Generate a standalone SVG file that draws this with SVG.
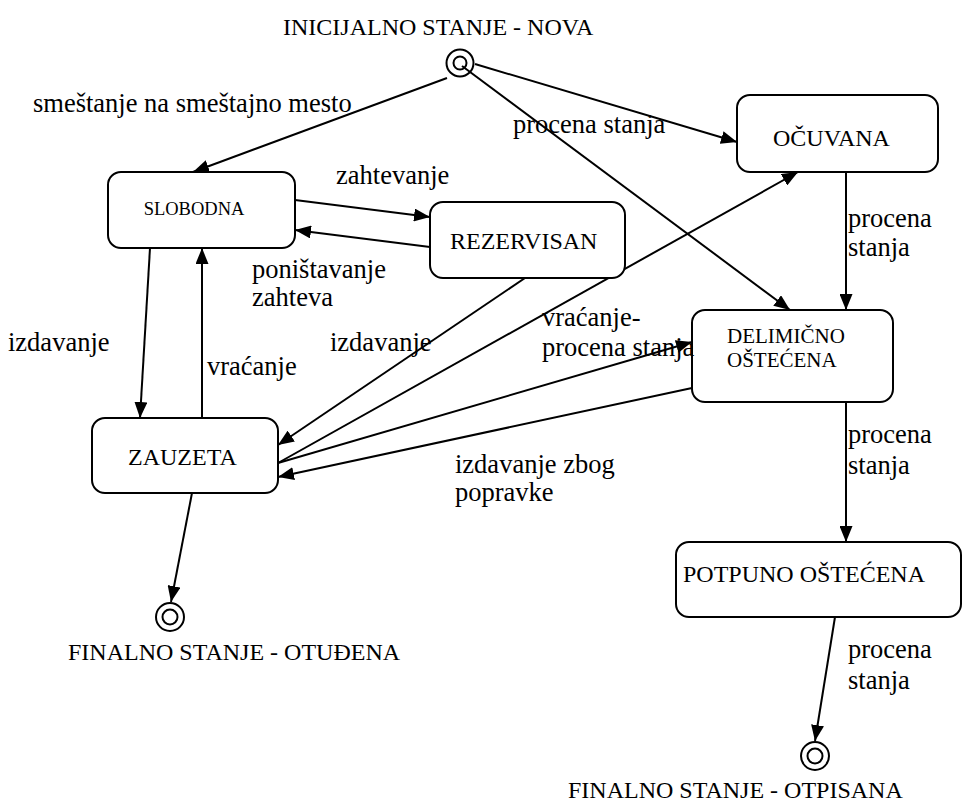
<svg xmlns="http://www.w3.org/2000/svg" width="965" height="805" viewBox="0 0 965 805">
<style>
.box{fill:#fff;stroke:#000;stroke-width:2}
.t{font-family:"Liberation Serif","Times New Roman",serif;font-size:24px;fill:#000}
.l{font-size:26.5px}
.s{font-size:18.5px}
.d{font-size:21px}
.c{fill:none;stroke:#000;stroke-width:2}
.e{stroke:#000;stroke-width:2;fill:none;marker-end:url(#ah)}
</style>
<defs>
<marker id="ah" markerUnits="userSpaceOnUse" markerWidth="17" markerHeight="13" refX="16" refY="6.5" orient="auto">
<path d="M0,0 L16,6.5 L0,13 z" fill="#000"/>
</marker>
</defs>
<rect width="965" height="805" fill="#fff"/>
<g id="connectors">
<line class="e" x1="447" y1="78" x2="193" y2="172"/>
<line class="e" x1="475" y1="64" x2="737" y2="142"/>
<line class="e" x1="462" y1="66" x2="790" y2="310"/>
<line class="e" x1="295" y1="200" x2="430" y2="217"/>
<line class="e" x1="430" y1="247" x2="295" y2="230"/>
<line class="e" x1="150" y1="248" x2="140" y2="418"/>
<line class="e" x1="202" y1="418" x2="202" y2="248"/>
<line class="e" x1="525" y1="278" x2="278" y2="445"/>
<line class="e" x1="278" y1="463" x2="798" y2="172"/>
<line class="e" x1="278" y1="463" x2="692" y2="342"/>
<line class="e" x1="692" y1="388" x2="278" y2="477"/>
<line class="e" x1="846" y1="172" x2="846" y2="310"/>
<line class="e" x1="846" y1="402" x2="846" y2="542"/>
<line class="e" x1="835" y1="617" x2="815" y2="741"/>
<line class="e" x1="192" y1="493" x2="171" y2="602"/>
</g>
<g id="initial">
<circle class="c" cx="460" cy="63" r="13.5"/>
<circle class="c" cx="460" cy="63" r="6.5"/>
<text class="t" x="283" y="35">INICIJALNO STANJE - NOVA</text>
</g>
<g id="final-otudjena">
<circle class="c" cx="170" cy="617" r="14"/>
<circle class="c" cx="170" cy="617" r="7.5"/>
<text class="t" x="68" y="660">FINALNO STANJE - OTUĐENA</text>
</g>
<g id="final-otpisana">
<circle class="c" cx="815" cy="756" r="14"/>
<circle class="c" cx="815" cy="756" r="7.5"/>
<text class="t" x="568" y="798">FINALNO STANJE - OTPISANA</text>
</g>
<g id="slobodna">
<rect class="box" x="108" y="172" width="187" height="76" rx="13"/>
<text class="t s" x="194" y="215" text-anchor="middle">SLOBODNA</text>
</g>
<g id="rezervisan">
<rect class="box" x="430" y="202" width="195" height="76" rx="13"/>
<text class="t" x="450" y="249">REZERVISAN</text>
</g>
<g id="zauzeta">
<rect class="box" x="92" y="418" width="186" height="75" rx="13"/>
<text class="t" x="128" y="465">ZAUZETA</text>
</g>
<g id="ocuvana">
<rect class="box" x="737" y="95" width="201" height="77" rx="13"/>
<text class="t" x="773" y="146">OČUVANA</text>
</g>
<g id="delimicno">
<rect class="box" x="692" y="310" width="201" height="92" rx="13"/>
<text class="t d" x="727" y="343">DELIMIČNO</text>
<text class="t d" x="727" y="367">OŠTEĆENA</text>
</g>
<g id="potpuno">
<rect class="box" x="676" y="542" width="285" height="75" rx="13"/>
<text class="t" x="683" y="582">POTPUNO OŠTEĆENA</text>
</g>
<g id="labels">
<text class="t l" x="33" y="112">smeštanje na smeštajno mesto</text>
<text class="t l" x="513" y="133">procena stanja</text>
<text class="t l" x="336" y="184">zahtevanje</text>
<text class="t l" x="252" y="278">poništavanje</text>
<text class="t l" x="252" y="306">zahteva</text>
<text class="t l" x="8" y="351">izdavanje</text>
<text class="t l" x="207" y="375">vraćanje</text>
<text class="t l" x="330" y="351">izdavanje</text>
<text class="t l" x="542" y="326">vraćanje-</text>
<text class="t l" x="542" y="356">procena stanja</text>
<text class="t l" x="455" y="473">izdavanje zbog</text>
<text class="t l" x="455" y="501">popravke</text>
<text class="t l" x="848" y="227">procena</text>
<text class="t l" x="848" y="256">stanja</text>
<text class="t l" x="848" y="443">procena</text>
<text class="t l" x="848" y="474">stanja</text>
<text class="t l" x="848" y="658">procena</text>
<text class="t l" x="848" y="689">stanja</text>
</g>
</svg>
